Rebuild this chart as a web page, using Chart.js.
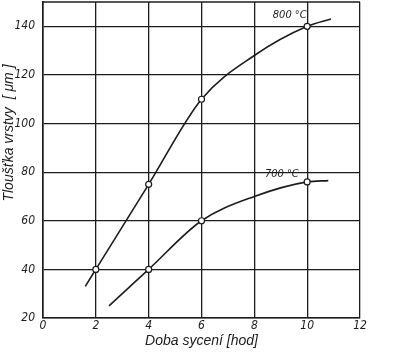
<!DOCTYPE html>
<html>
<head>
<meta charset="utf-8">
<script src="https://cdn.jsdelivr.net/npm/chart.js@4"></script>
<style>
  html, body { margin: 0; padding: 0; background: #fff; }
  #wrap { width: 406px; height: 352px; }
</style>
</head>
<body>
<div id="wrap"><canvas id="chart" width="406" height="352"></canvas></div>
<script>
// values
const hours800 = [1.6, 2, 4, 6, 8, 10, 10.9];
const thick800 = [33, 40, 75, 110, 128, 140, 143];
const marks800 = [0, 1, 1, 1, 0, 1, 0];

const hours700 = [2.5, 4, 6, 8, 10, 10.8];
const thick700 = [25, 40, 60, 70, 76, 76.5];
const marks700 = [0, 1, 1, 0, 1, 0];

const xTicks = [0, 2, 4, 6, 8, 10, 12];
const yTicks = [20, 40, 60, 80, 100, 120, 140];

const ink = '#1c1c1c';
const tickFont = { family: "'Liberation Sans Narrow', 'DejaVu Sans Condensed', sans-serif", size: 12, style: 'italic' };

const toPoints = (xs, ys) => xs.map((x, i) => ({ x: x, y: ys[i] }));

// top frame line, curve labels, rotated y title
const annotations = {
  id: 'annotations',
  beforeDatasetsDraw(chart) {
    const { ctx, chartArea } = chart;
    ctx.save();
    ctx.strokeStyle = ink;
    ctx.lineWidth = 1.6;
    ctx.beginPath();
    ctx.moveTo(chartArea.left, chartArea.top);
    ctx.lineTo(chartArea.right, chartArea.top);
    ctx.stroke();
    ctx.restore();
  },
  afterDraw(chart) {
    const { ctx, scales: { x, y } } = chart;
    ctx.save();
    ctx.fillStyle = ink;
    ctx.font = "italic 11px 'Liberation Sans Narrow', 'DejaVu Sans Condensed', sans-serif";
    ctx.textBaseline = 'middle';
    ctx.fillText('800 °C', x.getPixelForValue(8.7), y.getPixelForValue(144.5));
    ctx.fillText('700 °C', x.getPixelForValue(8.4), y.getPixelForValue(79));

    ctx.font = "italic 14px 'Liberation Sans', Arial, sans-serif";
    ctx.translate(9, 133);
    ctx.rotate(-Math.PI / 2);
    ctx.textAlign = 'center';
    ctx.fillText('Tloušťka vrstvy  [ μm ]', 0, 0);
    ctx.restore();
  }
};

new Chart(document.getElementById('chart'), {
  type: 'line',
  data: {
    datasets: [
      {
        label: '800 °C',
        data: toPoints(hours800, thick800),
        pointRadius: marks800.map(m => m ? 3 : 0)
      },
      {
        label: '700 °C',
        data: toPoints(hours700, thick700),
        pointRadius: marks700.map(m => m ? 3 : 0)
      }
    ]
  },
  options: {
    responsive: false,
    animation: false,
    layout: { padding: { top: 2, right: 46, left: 0, bottom: 0 } },
    plugins: {
      legend: { display: false },
      tooltip: { enabled: false }
    },
    elements: {
      line: { borderColor: ink, borderWidth: 1.6, cubicInterpolationMode: 'monotone', fill: false },
      point: { backgroundColor: '#fff', borderColor: ink, borderWidth: 1.2, hoverRadius: 3 }
    },
    scales: {
      x: {
        type: 'linear',
        min: 0,
        max: 12,
        afterBuildTicks: axis => { axis.ticks = xTicks.map(v => ({ value: v })); },
        afterFit: axis => { axis.height = 34; axis.paddingLeft = 0; axis.paddingRight = 0; },
        ticks: { color: ink, font: tickFont, padding: 1, maxRotation: 0 },
        grid: { color: ink, lineWidth: 1.3, drawTicks: false },
        border: { color: ink, width: 1.6 },
        title: {
          display: true,
          text: 'Doba sycení [hod]',
          color: ink,
          font: { family: "'Liberation Sans', Arial, sans-serif", size: 14, style: 'italic' },
          padding: { top: 0, bottom: 2 }
        }
      },
      y: {
        min: 20,
        max: 150,
        afterBuildTicks: axis => { axis.ticks = yTicks.map(v => ({ value: v })); },
        afterFit: axis => { axis.width = 43; axis.paddingTop = 0; axis.paddingBottom = 0; },
        ticks: { color: ink, font: tickFont, padding: 8 },
        grid: { color: ink, lineWidth: 1.3, drawTicks: false },
        border: { color: ink, width: 1.6 }
      }
    }
  },
  plugins: [annotations]
});
</script>
</body>
</html>
